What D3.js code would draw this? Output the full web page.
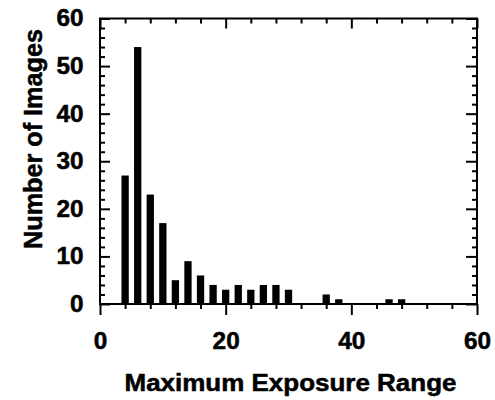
<!DOCTYPE html>
<html><head><meta charset="utf-8">
<script src="https://cdn.jsdelivr.net/npm/d3@7"></script>
<style>body{margin:0;background:#fff}svg{display:block}</style>
</head><body><svg id="c" width="495" height="400"></svg>
<script>
const binCenters = [4, 6, 8, 10, 12, 14, 16, 18, 20, 22, 24, 26, 28, 30, 32, 34, 36, 38, 40, 42, 44, 46, 48];
const counts     = [27, 54, 23, 17, 5, 9, 6, 4, 3, 4, 3, 4, 4, 3, 0, 0, 2, 1, 0, 0, 0, 1, 1];
const xMajorTicks = [0, 20, 40, 60];
const xMinorTicks = [4, 8, 12, 16, 24, 28, 32, 36, 44, 48, 52, 56];
const yMajorTicks = [0, 10, 20, 30, 40, 50, 60];
const yMinorTicks = [2, 4, 6, 8, 12, 14, 16, 18, 22, 24, 26, 28, 32, 34, 36, 38, 42, 44, 46, 48, 52, 54, 56, 58];
const xTitle = "Maximum Exposure Range";
const yTitle = "Number of Images";

const FONT = "'Liberation Sans', Arial, Helvetica, sans-serif";
const L = 100, R = 477, T = 18.5, B = 304;
const svg = d3.select("#c");
const x = d3.scaleLinear().domain([0, 60]).range([L, R]);
const y = d3.scaleLinear().domain([0, 60]).range([B, T]);
const barW = x(1.16) - x(0);

// bars
svg.append("g").selectAll("rect").data(binCenters.map((c, i) => ({c, v: counts[i]})).filter(d => d.v > 0))
  .join("rect")
  .attr("x", d => x(d.c) - barW / 2)
  .attr("width", barW)
  .attr("y", d => y(d.v))
  .attr("height", d => y(0) - y(d.v))
  .attr("fill", "#000");

function styleAxis(g) {
  g.select(".domain").remove();
  g.selectAll("line").attr("stroke", "#000").attr("stroke-width", 2);
}
// bottom (outward)
svg.append("g").attr("transform", `translate(0,${B})`)
  .call(d3.axisBottom(x).tickValues(xMajorTicks).tickSize(11).tickFormat(() => "")).call(styleAxis);
svg.append("g").attr("transform", `translate(0,${B})`)
  .call(d3.axisBottom(x).tickValues(xMinorTicks).tickSize(5).tickFormat(() => "")).call(styleAxis);
// top (inward)
svg.append("g").attr("transform", `translate(0,${T})`)
  .call(d3.axisTop(x).tickValues(xMajorTicks).tickSize(-10).tickFormat(() => "")).call(styleAxis);
svg.append("g").attr("transform", `translate(0,${T})`)
  .call(d3.axisTop(x).tickValues(xMinorTicks).tickSize(-5).tickFormat(() => "")).call(styleAxis);
// left (inward)
svg.append("g").attr("transform", `translate(${L},0)`)
  .call(d3.axisLeft(y).tickValues(yMajorTicks).tickSize(-10).tickFormat(() => "")).call(styleAxis);
svg.append("g").attr("transform", `translate(${L},0)`)
  .call(d3.axisLeft(y).tickValues(yMinorTicks).tickSize(-5).tickFormat(() => "")).call(styleAxis);
// right (inward)
svg.append("g").attr("transform", `translate(${R},0)`)
  .call(d3.axisRight(y).tickValues(yMajorTicks).tickSize(-11).tickFormat(() => "")).call(styleAxis);
svg.append("g").attr("transform", `translate(${R},0)`)
  .call(d3.axisRight(y).tickValues(yMinorTicks).tickSize(-5).tickFormat(() => "")).call(styleAxis);

// labels via axes
const xl = svg.append("g").attr("transform", `translate(0,${B})`)
  .call(d3.axisBottom(x).tickValues(xMajorTicks).tickSize(0).tickPadding(29).tickFormat(d3.format("d")));
xl.select(".domain").remove();
const yl = svg.append("g").attr("transform", `translate(${L},0)`)
  .call(d3.axisLeft(y).tickValues(yMajorTicks).tickSize(0).tickPadding(16.5).tickFormat(d3.format("d")));
yl.select(".domain").remove();
svg.selectAll(".tick text")
  .attr("font-family", FONT).attr("font-weight", "bold").attr("font-size", 23).attr("fill", "#000")
  .attr("stroke", "#000").attr("stroke-width", 0.5)
  .each(function () {
    const len = this.getComputedTextLength();
    if (len > 0) d3.select(this).attr("textLength", len * 1.06).attr("lengthAdjust", "spacingAndGlyphs");
  });

// frame
svg.append("rect").attr("x", L).attr("y", T).attr("width", R - L).attr("height", B - T)
  .attr("fill", "none").attr("stroke", "#000").attr("stroke-width", 2);

// titles
svg.append("text").attr("x", (L + R) / 2 + 2).attr("y", 391).attr("text-anchor", "middle")
  .attr("font-family", FONT).attr("font-weight", "bold").attr("font-size", 23)
  .attr("stroke", "#000").attr("stroke-width", 0.5)
  .attr("textLength", 332).attr("lengthAdjust", "spacingAndGlyphs").text(xTitle);
svg.append("text").attr("transform", "translate(42,139) rotate(-90)").attr("text-anchor", "middle")
  .attr("font-family", FONT).attr("font-weight", "bold").attr("font-size", 25)
  .attr("stroke", "#000").attr("stroke-width", 0.5)
  .attr("textLength", 220).attr("lengthAdjust", "spacingAndGlyphs").text(yTitle);
</script></body></html>
